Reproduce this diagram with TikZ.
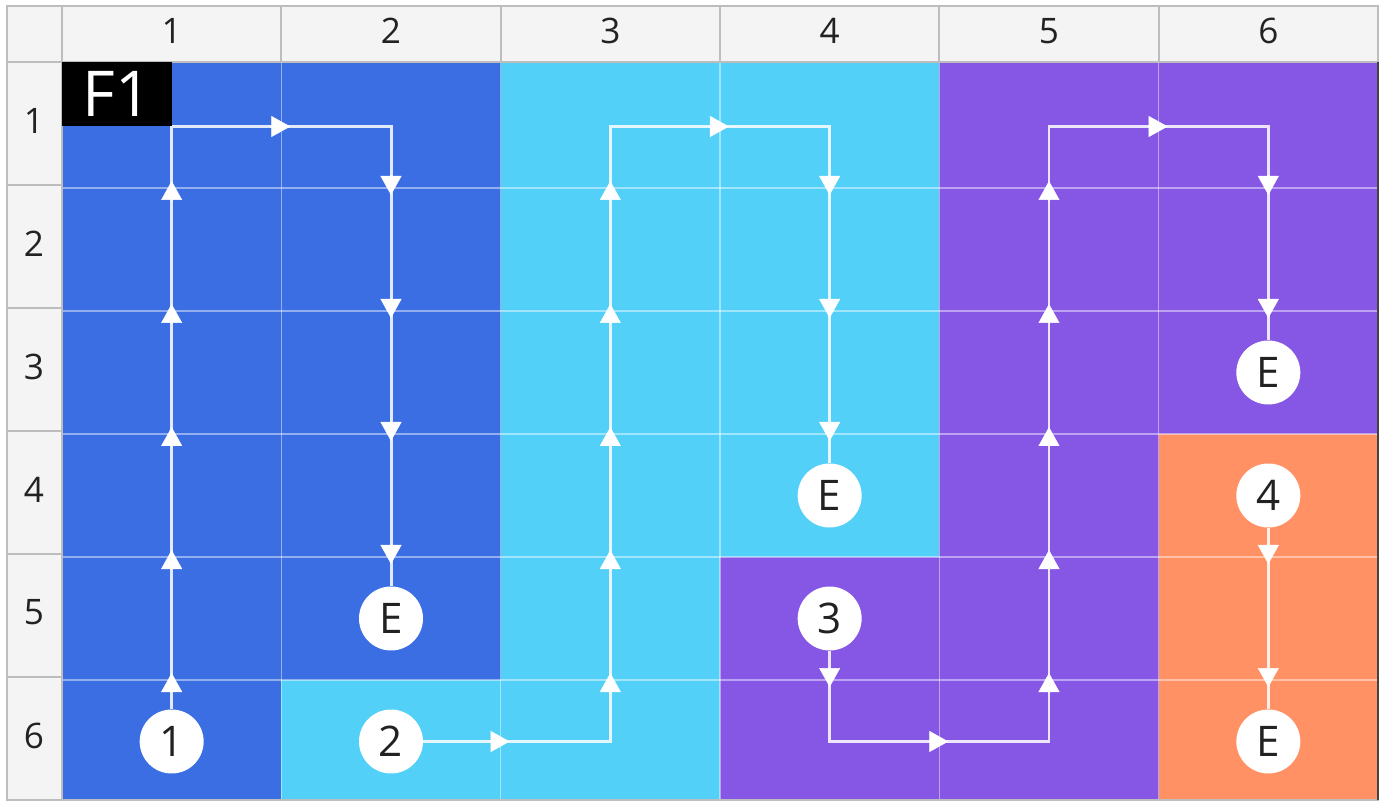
\documentclass[tikz,border=0pt]{standalone}
\usepackage{fontspec}
\setmainfont{Open Sans}
\usepackage{tikz}
\usetikzlibrary{arrows.meta}

\definecolor{cellblue}{HTML}{3B6EE3}
\definecolor{cellcyan}{HTML}{52D0F8}
\definecolor{cellpurple}{HTML}{8656E5}
\definecolor{cellorange}{HTML}{FF9164}
\definecolor{hdrfill}{HTML}{F4F4F4}
\definecolor{hdrline}{HTML}{BDBDBD}
\definecolor{inkdark}{HTML}{222222}

\begin{document}
\begin{tikzpicture}[x=0.02cm,y=-0.02cm]

    \def\cw{219.33}
    \def\rh{123}
    \tikzstyle{hdr}=[text=inkdark,inner sep=0pt,font=\fontsize{20}{24}\selectfont]
    \tikzstyle{spot}=[circle,fill=white,minimum size=1.28cm,inner sep=0pt,text=inkdark,font=\fontsize{24}{28}\selectfont]
    \tikzstyle{flowline}=[draw=white,draw opacity=0.85,line width=0.06cm]
    \tikzstyle{flowtip}=[white,line width=0.01cm,-{Triangle[length=0.38cm,width=0.42cm]}]
    \tikzstyle{gridline}=[white,opacity=0.45,line width=0.032cm]
    \tikzstyle{hdrrule}=[hdrline,line width=0.04cm]

    \useasboundingbox (0,0) rectangle (1389,803);

    %% header strips
    \fill[hdrfill] (7,6) rectangle (1378,62);
    \fill[hdrfill] (7,62) rectangle (62,800);

    %% coloured cells
    \begin{scope}
        \clip (62,62) rectangle (1378,800);
        \foreach \row [count=\r] in {%
            {cellblue,cellblue,cellcyan,cellcyan,cellpurple,cellpurple},
            {cellblue,cellblue,cellcyan,cellcyan,cellpurple,cellpurple},
            {cellblue,cellblue,cellcyan,cellcyan,cellpurple,cellpurple},
            {cellblue,cellblue,cellcyan,cellcyan,cellpurple,cellorange},
            {cellblue,cellblue,cellcyan,cellpurple,cellpurple,cellorange},
            {cellblue,cellcyan,cellcyan,cellpurple,cellpurple,cellorange}}
            \foreach \col [count=\c] in \row
                \fill[\col] ({62+(\c-1)*\cw},{65+(\r-1)*\rh-3*(\r==1)}) rectangle ({62+\c*\cw},{65+\r*\rh});
    \end{scope}

    %% white cell rules
    \foreach \c in {1,...,5}
        \draw[gridline] ({62+\c*\cw},62) -- ({62+\c*\cw},800);
    \foreach \r in {1,...,5}
        \draw[gridline] (62,{65+\r*\rh}) -- (1378,{65+\r*\rh});

    %% header rules
    \draw[hdrrule] (7,6) rectangle (1378,800);
    \draw[hdrrule] (7,62) -- (1378,62);
    \draw[hdrrule] (62,6) -- (62,800);
    \foreach \c in {1,...,5}
        \draw[hdrrule] ({62+\c*\cw},6) -- ({62+\c*\cw},62);
    \foreach \r in {1,...,5}
        \draw[hdrrule] (7,{62+\r*\rh}) -- (62,{62+\r*\rh});
    \draw[inkdark!85,line width=0.025cm] (1378,62) -- (1378,800);

    %% header labels
    \foreach \c in {1,...,6}
        \node[hdr] (col\c) at ({62+(\c-0.5)*\cw},31) {\c};
    \foreach \r in {1,...,6}
        \node[hdr] (row\r) at (34,{62+(\r-0.5)*\rh-3}) {\r};

    %% cell centres
    \foreach \c in {1,...,6}
        \foreach \r in {1,...,6}
            \coordinate (m\c-\r) at ({62+(\c-0.5)*\cw},{65+(\r-0.5)*\rh});

    %% start and end marks
    \node[spot] (s1) at (m1-6) {1};
    \node[spot] (s2) at (m2-6) {2};
    \node[spot] (s3) at (m4-5) {3};
    \node[spot] (s4) at (m6-4) {4};
    \node[spot] (e1) at (m2-5) {E};
    \node[spot] (e2) at (m4-4) {E};
    \node[spot] (e3) at (m6-3) {E};
    \node[spot] (e4) at (m6-6) {E};

    %% routes
    \draw[flowline] (s1) -- (m1-1) -| (e1);
    \draw[flowline] (s2) -| (m3-1) -| (e2);
    \draw[flowline] (s3) |- (m5-6) -- (m5-1) -| (e3);
    \draw[flowline] (s4) -- (e4);

    %% arrow heads on the cell rules
    \foreach \c in {1,3,5}
        \foreach \r in {1,...,5}
            \draw[flowtip] ({62+(\c-0.5)*\cw},{65+\r*\rh+13}) -- ++(0,0.4cm);
    \foreach \c/\r in {2/1,2/2,2/3,2/4,4/1,4/2,4/3,4/5,6/1,6/2,6/4,6/5}
        \draw[flowtip] ({62+(\c-0.5)*\cw},{65+\r*\rh-13}) -- ++(0,-0.4cm);
    \foreach \c/\r in {1/1,3/1,5/1,2/6,4/6}
        \draw[flowtip] ({62+\c*\cw-11},{65+(\r-0.5)*\rh}) -- ++(0.4cm,0);

    %% sheet tag
    \node[fill=black,text=white,inner sep=0pt,minimum width=2.19cm,minimum height=1.27cm,
          anchor=north west,font=\fontsize{36}{40}\selectfont] (f1) at (62,62) {F1};

\end{tikzpicture}
\end{document}
